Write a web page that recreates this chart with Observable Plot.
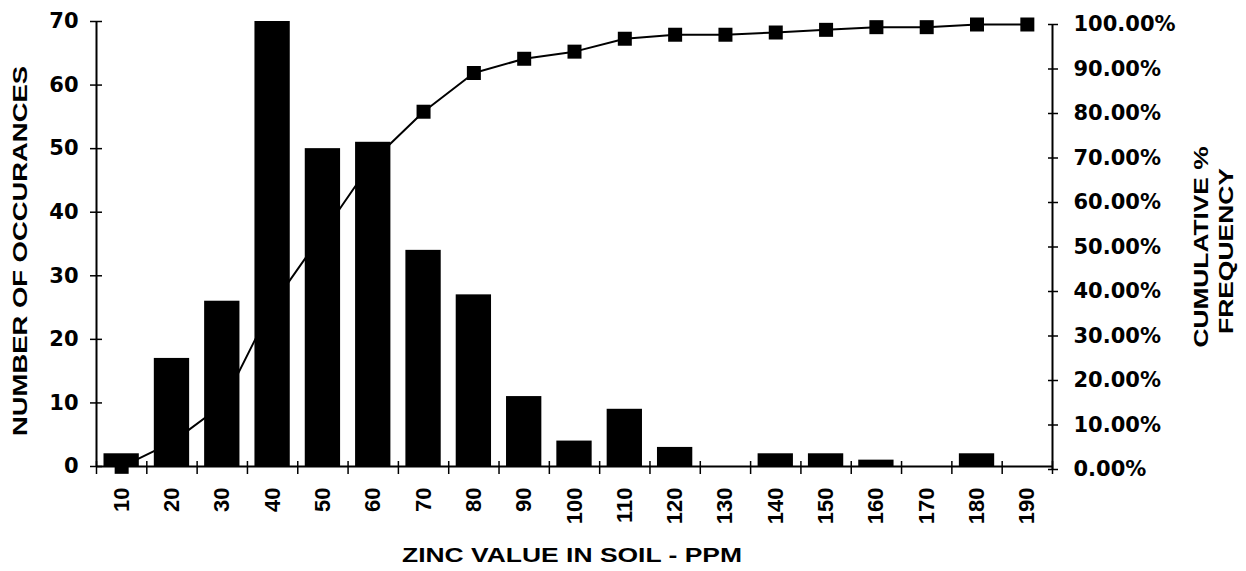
<!DOCTYPE html>
<html>
<head>
<meta charset="utf-8">
<script src="https://cdn.jsdelivr.net/npm/d3@7"></script>
<script src="https://cdn.jsdelivr.net/npm/@observablehq/plot@0.6"></script>
<style>
  html, body { margin: 0; padding: 0; background: #fff; }
</style>
</head>
<body>
<div id="chart"></div>
<script>
// ---- data ----
const zinc = [10, 20, 30, 40, 50, 60, 70, 80, 90, 100, 110, 120, 130, 140, 150, 160, 170, 180, 190];
const counts = [2, 17, 26, 70, 50, 51, 34, 27, 11, 4, 9, 3, 0, 2, 2, 1, 0, 2, 0];
const cumPct = [0.6, 6.1, 14.5, 37.0, 53.1, 69.5, 80.4, 89.1, 92.3, 93.9, 96.8, 97.7, 97.7, 98.2, 98.8, 99.4, 99.4, 100, 100];
const countTicks = [0, 10, 20, 30, 40, 50, 60, 70];
const pctTicks = [0, 10, 20, 30, 40, 50, 60, 70, 80, 90, 100];
const yTitle = "NUMBER OF OCCURANCES";
const y2Title = ["CUMULATIVE %", "FREQUENCY"];
const xTitle = "ZINC VALUE IN SOIL - PPM";

// ---- build ----
const W = 1246, H = 571;
const binHalf = 5;
const countMax = 70;
const f = countMax / 100; // maps percent onto the count axis
const data = zinc.map((z, i) => ({ zinc: z, count: counts[i], pct: cumPct[i] }));
const edges = zinc.map(z => z - binHalf).concat([zinc[zinc.length - 1] + binHalf]);
const rightShift = 3;

const plot = Plot.plot({
  width: W,
  height: H,
  marginLeft: 96,
  marginRight: 194,
  marginTop: 21,
  marginBottom: 105,
  x: { type: "linear", domain: [edges[0], edges[edges.length - 1]] },
  y: { domain: [0, countMax] },
  style: { fontFamily: "'DejaVu Sans', sans-serif", fontWeight: "bold", fontSize: "21px", color: "#000", background: "#fff" },
  marks: [
    // cumulative line (behind bars)
    Plot.lineY(data, { x: "zinc", y: d => d.pct * f, stroke: "#000", strokeWidth: 2, dy: rightShift }),
    Plot.dot(data, { x: "zinc", y: d => d.pct * f, symbol: "square", r: 7.9, fill: "#000", stroke: "none", dy: rightShift }),
    // histogram bars
    Plot.rectY(data, { x1: d => d.zinc - binHalf, x2: d => d.zinc + binHalf, y: "count", fill: "#000", insetLeft: 7.5, insetRight: 7.5 }),
    // axis lines
    Plot.ruleY([0], { stroke: "#000", strokeWidth: 2 }),
    Plot.ruleX([edges[0]], { y1: 0, y2: countMax, stroke: "#000", strokeWidth: 2 }),
    Plot.ruleX([edges[edges.length - 1]], { y1: 0, y2: countMax, stroke: "#000", strokeWidth: 2, dy: rightShift }),
    // x ticks at bin edges (crossing the axis)
    Plot.axisX({ ticks: edges, tickSize: 13, dy: -5, fill: "none", label: null, stroke: "#000", strokeWidth: 1.5 }),
    // x labels rotated
    Plot.axisX({ ticks: zinc, tickSize: 0, tickPadding: 21, tickRotate: -90, label: null,
                 fontFamily: "'Liberation Sans', Arial, sans-serif", fontSize: 22, fontWeight: "bold", fill: "#000" }),
    // left y axis
    Plot.axisY({ ticks: countTicks, tickSize: 12, dx: 6, fill: "none", label: null, stroke: "#000", strokeWidth: 1.5 }),
    Plot.axisY({ ticks: countTicks, tickSize: 0, tickPadding: 18, label: null, fill: "#000" }),
    // right y axis (cumulative %)
    Plot.axisY({ anchor: "right", ticks: pctTicks.map(p => p * f), tickSize: 10, dx: -5, dy: rightShift,
                 fill: "none", label: null, stroke: "#000", strokeWidth: 1.5 }),
    Plot.axisY({ anchor: "right", ticks: pctTicks.map(p => p * f), tickSize: 0, tickPadding: 21, dy: rightShift,
                 label: null, fill: "#000",
                 tickFormat: v => (Math.round(v / f * 100) / 100).toFixed(2) + "%" })
  ]
});

document.getElementById("chart").appendChild(plot);

// ---- axis titles ----
const svg = d3.select(plot);
const titleFont = "'Liberation Sans', Arial, sans-serif";
function addTitle(text, x, y, rot, len, size) {
  svg.append("text")
    .attr("transform", `translate(${x},${y}) rotate(${rot})`)
    .attr("text-anchor", "middle")
    .attr("font-family", titleFont)
    .attr("font-weight", "bold")
    .attr("font-size", size)
    .attr("fill", "#000")
    .attr("textLength", len)
    .attr("lengthAdjust", "spacingAndGlyphs")
    .text(text);
}
addTitle(yTitle, 27, 251, -90, 370, 21);
addTitle(y2Title[0], 1208, 247, -90, 201, 21);
addTitle(y2Title[1], 1233, 251, -90, 166, 21);
addTitle(xTitle, 572, 562, 0, 340, 20);
</script>
</body>
</html>
